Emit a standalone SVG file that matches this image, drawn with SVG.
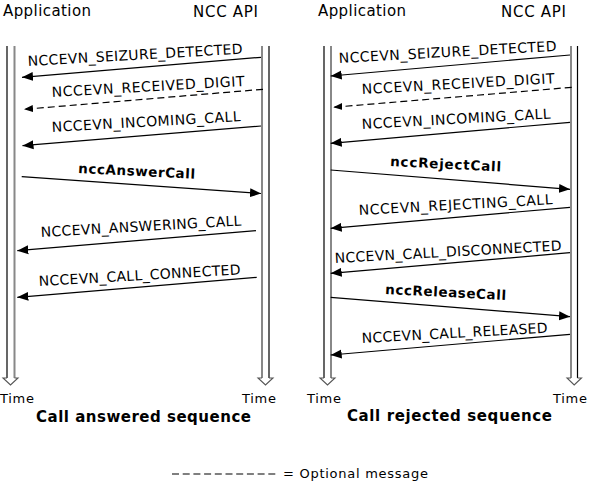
<svg xmlns="http://www.w3.org/2000/svg" width="589" height="483" viewBox="0 0 589 483">
<style>
text{font-family:"DejaVu Sans","Verdana",sans-serif;fill:#000}
.hdr{font-size:15px}
.lbl{font-size:14px}
.bold{font-size:13.5px;font-weight:bold}
.time{font-size:13px}
.title{font-size:15px;font-weight:bold}
.msg{stroke:#000;stroke-width:1.2;fill:none;marker-end:url(#ah)}
.opt{stroke:#000;stroke-width:1.2;fill:none;stroke-dasharray:7 4;marker-end:url(#ahs)}
.outer{stroke:#000;stroke-width:1.2;fill:none}
.inner{stroke:#888;stroke-width:2;fill:none}
.head{stroke:#555;stroke-width:1.1;fill:none}
</style>
<defs>
<marker id="ah" markerWidth="12" markerHeight="10" refX="11" refY="5" orient="auto" markerUnits="userSpaceOnUse"><path d="M0,0.5 L11,5 L0,9.5 z" fill="#000"/></marker>
<marker id="ahs" markerWidth="10" markerHeight="10" refX="9" refY="5" orient="auto" markerUnits="userSpaceOnUse"><path d="M0,1.5 L9,5 L0,8.5 z" fill="#000"/></marker>
</defs>

<g id="header-left">
<text class="hdr" x="3" y="16" textLength="88" lengthAdjust="spacing">Application</text>
<text class="hdr" x="193" y="17" textLength="65" lengthAdjust="spacing">NCC API</text>
</g>
<g id="header-right">
<text class="hdr" x="318" y="16" textLength="88" lengthAdjust="spacing">Application</text>
<text class="hdr" x="501" y="17" textLength="65" lengthAdjust="spacing">NCC API</text>
</g>

<g id="timeline-left-app">
<path class="outer" d="M7,46 V378"/>
<path class="inner" d="M14.5,46 V378"/>
<path class="head" d="M7,378 H3 L10.5,385 L18,378 H14.5"/>
<text class="time" x="0" y="403" textLength="34" lengthAdjust="spacing">Time</text>
</g>
<g id="timeline-left-api">
<path class="inner" d="M262,46 V378"/>
<path class="outer" d="M269,46 V378"/>
<path class="head" d="M262,378 H258 L265.5,385 L273,378 H269"/>
<text class="time" x="242" y="403" textLength="34" lengthAdjust="spacing">Time</text>
</g>
<g id="timeline-right-app">
<path class="outer" d="M324,46 V378"/>
<path class="inner" d="M331,46 V378"/>
<path class="head" d="M324,378 H320 L327.5,385 L335,378 H331"/>
<text class="time" x="307" y="403" textLength="34" lengthAdjust="spacing">Time</text>
</g>
<g id="timeline-right-api">
<path class="inner" d="M571,46 V378"/>
<path class="outer" d="M577.5,46 V378"/>
<path class="head" d="M571,378 H567 L574.2,385 L581.5,378 H577.5"/>
<text class="time" x="553" y="403" textLength="34" lengthAdjust="spacing">Time</text>
</g>

<g id="connectors">
<line class="msg" x1="261" y1="57.3" x2="22" y2="77.3"/>
<line class="opt" x1="263" y1="89.3" x2="24" y2="109.3"/>
<line class="msg" x1="261" y1="126" x2="22.5" y2="145.7"/>
<line class="msg" x1="21.7" y1="176.7" x2="261" y2="193.5"/>
<line class="msg" x1="256" y1="230.7" x2="17.3" y2="250.7"/>
<line class="msg" x1="256.7" y1="277.3" x2="17.3" y2="297.3"/>

<line class="msg" x1="570" y1="55" x2="330.7" y2="76"/>
<line class="opt" x1="571.7" y1="87.3" x2="333.3" y2="107.3"/>
<line class="msg" x1="570" y1="122.3" x2="330.7" y2="143.3"/>
<line class="msg" x1="330.7" y1="170" x2="570" y2="189.3"/>
<line class="msg" x1="570" y1="207.3" x2="330.7" y2="228.3"/>
<line class="msg" x1="570" y1="252.7" x2="330.7" y2="273.3"/>
<line class="msg" x1="330.7" y1="297.3" x2="570" y2="316.7"/>
<line class="msg" x1="570" y1="334.3" x2="330.7" y2="355"/>
</g>

<g id="labels-left">
<text class="lbl" x="28" y="66" transform="rotate(-3.3 28 66)" textLength="215" lengthAdjust="spacing">NCCEVN_SEIZURE_DETECTED</text>
<text class="lbl" x="52" y="97" transform="rotate(-3.3 52 97)" textLength="193" lengthAdjust="spacing">NCCEVN_RECEIVED_DIGIT</text>
<text class="lbl" x="52" y="132" transform="rotate(-3.3 52 132)" textLength="189" lengthAdjust="spacing">NCCEVN_INCOMING_CALL</text>
<text class="bold" x="78" y="173" transform="rotate(2.8 78 173)" textLength="117" lengthAdjust="spacing">nccAnswerCall</text>
<text class="lbl" x="41" y="237" transform="rotate(-3.3 41 237)" textLength="201" lengthAdjust="spacing">NCCEVN_ANSWERING_CALL</text>
<text class="lbl" x="39" y="286" transform="rotate(-3.3 39 286)" textLength="202" lengthAdjust="spacing">NCCEVN_CALL_CONNECTED</text>
</g>
<g id="labels-right">
<text class="lbl" x="339" y="63" transform="rotate(-3.2 339 63)" textLength="218" lengthAdjust="spacing">NCCEVN_SEIZURE_DETECTED</text>
<text class="lbl" x="362" y="94" transform="rotate(-3.2 362 94)" textLength="193" lengthAdjust="spacing">NCCEVN_RECEIVED_DIGIT</text>
<text class="lbl" x="362" y="129" transform="rotate(-3.2 362 129)" textLength="189" lengthAdjust="spacing">NCCEVN_INCOMING_CALL</text>
<text class="bold" x="390" y="166" transform="rotate(2.8 390 166)" textLength="111" lengthAdjust="spacing">nccRejectCall</text>
<text class="lbl" x="359" y="215" transform="rotate(-3.2 359 215)" textLength="194" lengthAdjust="spacing">NCCEVN_REJECTING_CALL</text>
<text class="lbl" x="335" y="263" transform="rotate(-3.2 335 263)" textLength="227" lengthAdjust="spacing">NCCEVN_CALL_DISCONNECTED</text>
<text class="bold" x="385" y="294" transform="rotate(2.8 385 294)" textLength="121" lengthAdjust="spacing">nccReleaseCall</text>
<text class="lbl" x="362" y="343" transform="rotate(-3.2 362 343)" textLength="186" lengthAdjust="spacing">NCCEVN_CALL_RELEASED</text>
</g>

<g id="titles">
<text class="title" x="36" y="422" textLength="215" lengthAdjust="spacing">Call answered sequence</text>
<text class="title" x="347" y="421" textLength="205" lengthAdjust="spacing">Call rejected sequence</text>
</g>

<g id="legend">
<line x1="172" y1="474" x2="279" y2="474" stroke="#000" stroke-width="1.2" stroke-dasharray="7 3.7"/>
<text class="time" x="283" y="478" textLength="145" lengthAdjust="spacing">= Optional message</text>
</g>
</svg>
